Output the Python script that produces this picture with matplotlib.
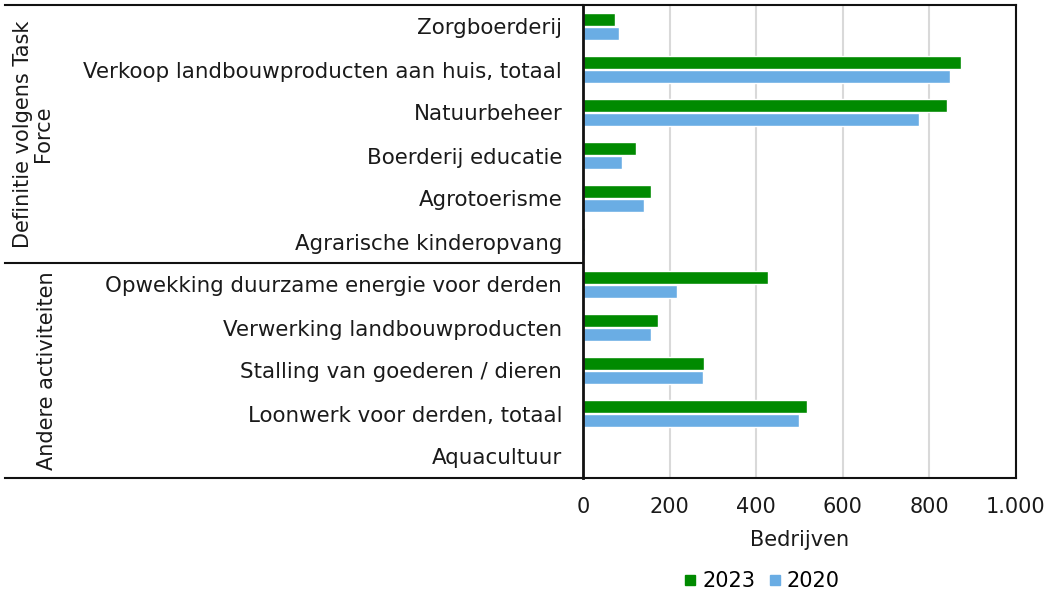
import numpy as np
import matplotlib.pyplot as plt
from matplotlib.lines import Line2D
from matplotlib.ticker import FuncFormatter

categories = [
    "Zorgboerderij",
    "Verkoop landbouwproducten aan huis, totaal",
    "Natuurbeheer",
    "Boerderij educatie",
    "Agrotoerisme",
    "Agrarische kinderopvang",
    "Opwekking duurzame energie voor derden",
    "Verwerking landbouwproducten",
    "Stalling van goederen / dieren",
    "Loonwerk voor derden, totaal",
    "Aquacultuur",
]
values_2023 = [75, 873, 840, 123, 158, 5, 428, 173, 279, 518, 1]
values_2020 = [83, 847, 776, 91, 141, 4, 217, 157, 276, 499, 0]
groups = ["Definitie volgens Task\nForce", "Andere activiteiten"]
group_sizes = [6, 5]
group_label_x = [33, 47]  # pixel centres of the rotated group labels

green = "#008a00"
blue = "#6aade4"
txt = "#1a1a1a"
fs = 15
W, H = 1049, 595

fig = plt.figure(figsize=(W / 100, H / 100), dpi=100)
ax = fig.add_axes([583 / W, 1 - 478 / H, 433 / W, 473 / H])

y = np.arange(len(categories))
bh = 0.29
ax.barh(y - bh / 2 - 0.02, values_2023, height=bh, color=green,
        edgecolor="white", linewidth=1, label="2023", zorder=2)
ax.barh(y + bh / 2 + 0.02, values_2020, height=bh, color=blue,
        edgecolor="white", linewidth=1, label="2020", zorder=2)

ax.set_ylim(len(categories) - 0.5, -0.5)
ax.set_xlim(0, 1000)
ax.set_xticks([0, 200, 400, 600, 800, 1000])
ax.xaxis.set_major_formatter(FuncFormatter(lambda v, p: f"{int(v):,}".replace(",", ".")))
ax.set_yticks(y)
ax.set_yticklabels(categories, fontsize=15.4, color=txt)
ax.tick_params(axis="y", length=0, pad=15)
ax.tick_params(axis="x", length=0, pad=14, labelsize=fs, labelcolor=txt)
ax.grid(axis="x", color="#d9d9d9", linewidth=1.5, zorder=0)
ax.set_axisbelow(True)
ax.set_xlabel("Bedrijven", fontsize=fs, color=txt, labelpad=9)

for side in ["left", "right", "top", "bottom"]:
    ax.spines[side].set_color("#111111")
    ax.spines[side].set_linewidth(1.5)
ax.spines["left"].set_linewidth(2)

# group frame on the left, drawn in figure pixels
def fx(px):
    return px / W

def fy(py):
    return 1 - py / H

top_px, bot_px = 5, 478
row_px = (bot_px - top_px) / len(categories)
fig.add_artist(Line2D([fx(5), fx(583)], [fy(top_px)] * 2, color="#111111", lw=1.5))
fig.add_artist(Line2D([fx(5), fx(583)], [fy(bot_px)] * 2, color="#111111", lw=1.5))

start = 0
for name, n, gx in zip(groups, group_sizes, group_label_x):
    y0 = top_px + start * row_px
    y1 = top_px + (start + n) * row_px
    if start > 0:
        fig.add_artist(Line2D([fx(5), fx(583)], [fy(y0)] * 2, color="#111111", lw=1.5))
    fig.text(fx(gx), fy((y0 + y1) / 2), name, rotation=90, ha="center", va="center",
             fontsize=fs, color=txt, multialignment="center", linespacing=1.0)
    start += n

handles = [Line2D([], [], marker="s", ls="", color=green, markersize=6.5),
           Line2D([], [], marker="s", ls="", color=blue, markersize=6.5)]
fig.legend(handles, ["2023", "2020"], loc="center", bbox_to_anchor=(fx(762), fy(581)),
           ncol=2, frameon=False, fontsize=fs, handletextpad=0.3, columnspacing=0.6,
           handlelength=0.6, borderpad=0)

fig.savefig("out.png", dpi=100)
